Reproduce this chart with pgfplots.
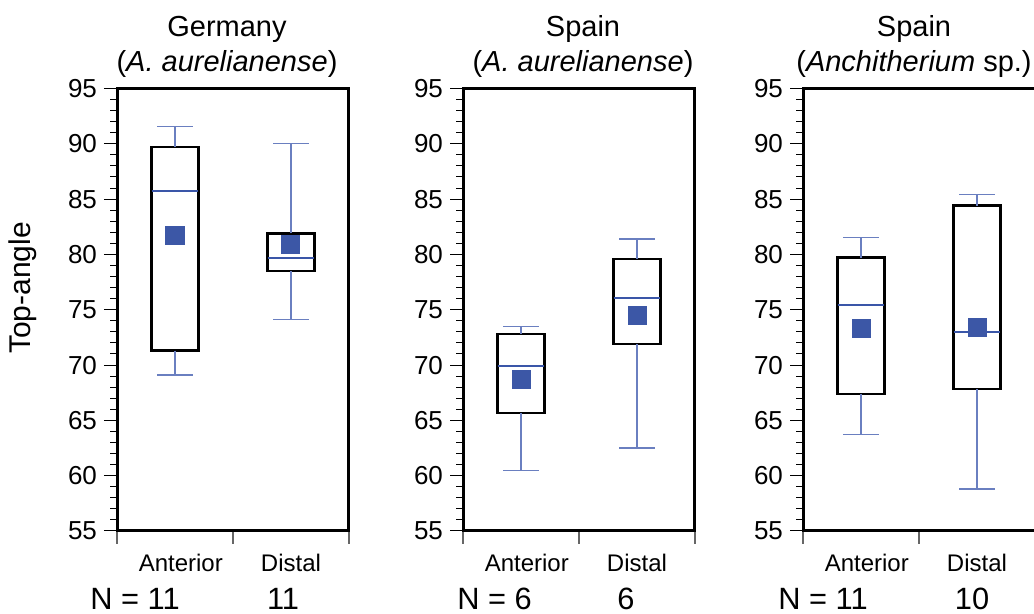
\documentclass[border=0pt]{standalone}
\usepackage{pgfplots}
\pgfplotsset{compat=1.18}
\usepackage{fontspec}
\setmainfont{Liberation Sans}
\definecolor{medblue}{HTML}{3A56A8}
\definecolor{whiskblue}{HTML}{6A7FC0}
\definecolor{meanblue}{HTML}{3C57A6}

\pgfplotsset{
  panel/.style={
    scale only axis, width=116pt, height=221.25pt,
    xmin=0, xmax=2, ymin=55, ymax=95,
    axis line style={line width=1.5pt},
    xtick={0,1,2}, xticklabels={},
    extra x ticks={0.55,1.5}, extra x tick labels={Anterior,Distal},
    extra x tick style={major tick length=0pt,
      tick label style={anchor=base, yshift=-20.5pt, font=\fontsize{12}{14}\selectfont}},
    ytick={55,60,...,95}, minor y tick num=4,
    tick align=outside, tick pos=left,
    major tick length=6.5pt, minor tick length=3.5pt,
    every tick/.style={black, line width=0.5pt},
    xtick style={black!60, line width=0.6pt},
    tick label style={font=\fontsize{13}{15}\selectfont},
    /pgf/number format/assume math mode=true,
    title style={font=\fontsize{14.5}{17.5}\selectfont, align=center, anchor=south,
      inner sep=0pt, at={(0.5,1)}, yshift=-0.5pt},
  },
  boxline/.style={black, line width=1.3pt, line cap=rect, line join=miter, mark=none},
  whisk/.style={whiskblue, line width=0.6pt, mark=none},
  med/.style={medblue, line width=1pt, mark=none},
  avg/.style={only marks, mark=square*, mark size=4.5pt,
    mark options={fill=meanblue, draw=meanblue, line width=0pt}},
}

% arguments: #1 lower whisker, #2 lower quartile, #3 median,
% #4 upper quartile, #5 upper whisker, #6 average
\newcommand{\boxA}[6]{%
  \addplot[boxline] coordinates {(0.2975,#2) (0.7025,#2) (0.7025,#4) (0.2975,#4) (0.2975,#2)};
  \addplot[med] coordinates {(0.2975,#3) (0.7025,#3)};
  \addplot[whisk] coordinates {(0.5,#4) (0.5,#5)};
  \addplot[whisk] coordinates {(0.345,#5) (0.655,#5)};
  \addplot[whisk] coordinates {(0.5,#2) (0.5,#1)};
  \addplot[whisk] coordinates {(0.345,#1) (0.655,#1)};
  \addplot[avg] coordinates {(0.5,#6)};
}
\newcommand{\boxD}[6]{%
  \addplot[boxline] coordinates {(1.2975,#2) (1.7025,#2) (1.7025,#4) (1.2975,#4) (1.2975,#2)};
  \addplot[med] coordinates {(1.2975,#3) (1.7025,#3)};
  \addplot[whisk] coordinates {(1.5,#4) (1.5,#5)};
  \addplot[whisk] coordinates {(1.345,#5) (1.655,#5)};
  \addplot[whisk] coordinates {(1.5,#2) (1.5,#1)};
  \addplot[whisk] coordinates {(1.345,#1) (1.655,#1)};
  \addplot[avg] coordinates {(1.5,#6)};
}

\begin{document}
\begin{tikzpicture}
\useasboundingbox (0,0) rectangle (517pt,307pt);

% Panel 1: lower whisker, Q1, median, Q3, upper whisker, mean
\begin{axis}[panel, at={(58.5pt,41.5pt)}, anchor=south west,
  title={Germany\\(\textit{A. aurelianense})}, title style={xshift=-3pt}]
\boxA{69.1}{71.3}{85.7}{89.7}{91.6}{81.7}
\boxD{74.1}{78.5}{79.7}{81.9}{90.0}{80.9}
\end{axis}

% Panel 2
\begin{axis}[panel, at={(231.5pt,41.5pt)}, anchor=south west,
  title={Spain\\(\textit{A. aurelianense})}, title style={xshift=2pt}]
\boxA{60.5}{65.65}{69.95}{72.8}{73.5}{68.65}
\boxD{62.5}{71.9}{76.1}{79.6}{81.4}{74.45}
\end{axis}

% Panel 3
\begin{axis}[panel, at={(401.5pt,41.5pt)}, anchor=south west,
  title={Spain\\(\textit{Anchitherium} sp.)}, title style={xshift=-2.5pt}]
\boxA{63.7}{67.4}{75.4}{79.7}{81.5}{73.3}
\boxD{58.8}{67.85}{73.0}{84.4}{85.4}{73.4}
\end{axis}

\node[rotate=90, font=\fontsize{15}{18}\selectfont] at (11.5pt,163pt) {Top-angle};

\begin{scope}[every node/.style={font=\fontsize{15.4}{18}\selectfont, inner sep=0pt}]
\node[anchor=base west] at (45pt,2pt) {N = 11};
\node[anchor=base] at (141.5pt,2pt) {11};
\node[anchor=base west] at (228.5pt,2pt) {N = 6};
\node[anchor=base] at (313pt,2pt) {6};
\node[anchor=base west] at (389pt,2pt) {N = 11};
\node[anchor=base] at (486pt,2pt) {10};
\end{scope}
\end{tikzpicture}
\end{document}
